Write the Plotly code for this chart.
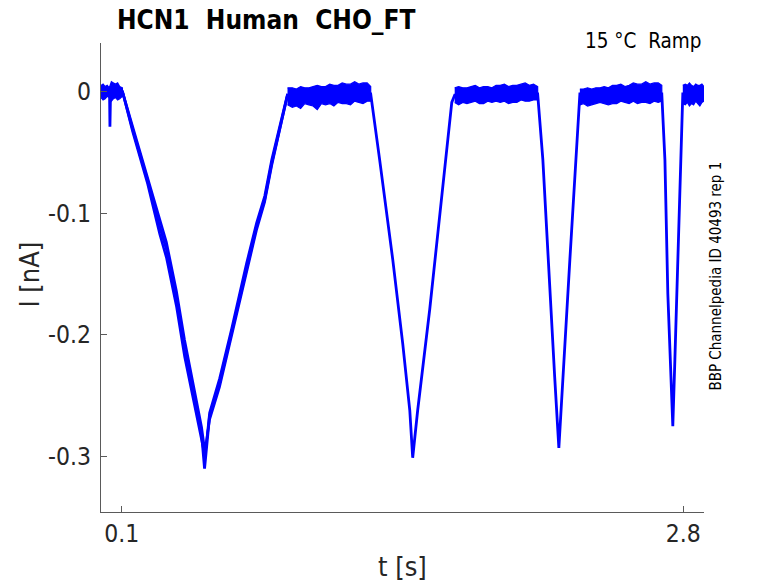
import plotly.graph_objects as go

BLUE = '#0000FF'
AXIS_GREY = '#5a5a5a'
TEXT_DARK = '#262626'
FONT = 'DejaVu Sans Condensed, DejaVu Sans, sans-serif'

# main sweep keypoints: time [s], current [nA]
t_sweep = [0.0, 0.041, 0.043, 0.046, 0.103,
           0.152, 0.224, 0.282, 0.315, 0.363, 0.402, 0.450, 0.484, 0.498,
           0.522, 0.570, 0.628, 0.700, 0.748, 0.787, 0.821, 0.897,
           1.297, 1.340, 1.403, 1.451, 1.485, 1.499, 1.523, 1.581, 1.639, 1.687, 1.701,
           2.100, 2.125, 2.158, 2.182, 2.202, 2.221, 2.255, 2.289, 2.303,
           2.697, 2.712, 2.726, 2.750, 2.760, 2.779, 2.798, 2.900]
i_sweep = [0.000, 0.000, -0.029, 0.000, 0.000,
           -0.031, -0.073, -0.111, -0.130, -0.171, -0.212, -0.253, -0.282, -0.310,
           -0.267, -0.240, -0.198, -0.144, -0.111, -0.089, -0.059, -0.003,
           -0.002, -0.056, -0.138, -0.207, -0.262, -0.301, -0.262, -0.179, -0.083, -0.009, -0.003,
           -0.002, -0.056, -0.166, -0.235, -0.293, -0.235, -0.138, -0.042, -0.002,
           -0.002, -0.056, -0.166, -0.275, -0.220, -0.111, -0.002, -0.002]

# the other sweeps only separate on the first (slow) ramp
t_ramp1 = [0.103, 0.152, 0.224, 0.282, 0.315, 0.363, 0.402, 0.450, 0.484, 0.500,
           0.522, 0.570, 0.628, 0.700, 0.748, 0.787, 0.821, 0.897]
i_ramp1_b = [0.000, -0.029, -0.070, -0.106, -0.124, -0.164, -0.204, -0.246, -0.276, -0.296,
             -0.270, -0.243, -0.201, -0.147, -0.114, -0.091, -0.061, -0.003]
i_ramp1_c = [0.000, -0.033, -0.076, -0.117, -0.137, -0.177, -0.218, -0.258, -0.286, -0.300,
             -0.264, -0.236, -0.195, -0.141, -0.108, -0.086, -0.056, -0.002]

# noise band on the holding segments: upper / lower edge [nA]
t_flat1 = [0.0, 0.01, 0.02, 0.03, 0.04, 0.05, 0.06, 0.07, 0.08, 0.09, 0.103]
up_flat1 = [0.005, 0.006, 0.004, 0.005, 0.003, 0.008, 0.007, 0.006, 0.007, 0.004, 0.003]
lo_flat1 = [-0.005, -0.007, -0.006, -0.004, -0.005, -0.008, -0.006, -0.005, -0.007, -0.006, -0.004]

t_flat2 = [0.897, 0.92, 0.94, 0.96, 0.98, 1.00, 1.02, 1.04, 1.06, 1.08, 1.10,
           1.12, 1.14, 1.16, 1.18, 1.20, 1.22, 1.24, 1.26, 1.28, 1.297]
up_flat2 = [0.003, 0.003, 0.002, 0.004, 0.003, 0.003, 0.004, 0.005, 0.004, 0.004, 0.006,
            0.005, 0.005, 0.007, 0.006, 0.006, 0.008, 0.006, 0.007, 0.007, 0.004]
lo_flat2 = [-0.011, -0.013, -0.012, -0.014, -0.010, -0.011, -0.012, -0.015, -0.010, -0.011, -0.010,
            -0.012, -0.009, -0.010, -0.010, -0.011, -0.008, -0.009, -0.010, -0.008, -0.008]

t_flat3 = [1.701, 1.72, 1.74, 1.76, 1.78, 1.80, 1.82, 1.84, 1.86, 1.88, 1.90,
           1.92, 1.94, 1.96, 1.98, 2.00, 2.02, 2.04, 2.06, 2.08, 2.100]
up_flat3 = [0.003, 0.004, 0.003, 0.003, 0.004, 0.005, 0.003, 0.004, 0.004, 0.003, 0.005,
            0.005, 0.006, 0.004, 0.005, 0.005, 0.006, 0.007, 0.005, 0.006, 0.004]
lo_flat3 = [-0.009, -0.011, -0.009, -0.010, -0.009, -0.008, -0.010, -0.010, -0.008, -0.009, -0.008,
            -0.009, -0.008, -0.010, -0.009, -0.009, -0.007, -0.008, -0.008, -0.007, -0.007]

t_flat4 = [2.303, 2.32, 2.34, 2.36, 2.38, 2.40, 2.42, 2.44, 2.46, 2.48, 2.50,
           2.52, 2.54, 2.56, 2.58, 2.60, 2.62, 2.64, 2.66, 2.68, 2.697]
up_flat4 = [0.002, 0.002, 0.003, 0.002, 0.003, 0.003, 0.004, 0.003, 0.005, 0.005, 0.006,
            0.004, 0.005, 0.007, 0.006, 0.006, 0.008, 0.006, 0.007, 0.007, 0.005]
lo_flat4 = [-0.011, -0.010, -0.012, -0.011, -0.010, -0.009, -0.010, -0.011, -0.010, -0.010, -0.008,
            -0.009, -0.010, -0.008, -0.010, -0.009, -0.009, -0.010, -0.008, -0.009, -0.008]

t_flat5 = [2.798, 2.81, 2.82, 2.83, 2.84, 2.85, 2.86, 2.87, 2.88, 2.89, 2.900]
up_flat5 = [0.005, 0.006, 0.005, 0.007, 0.005, 0.004, 0.006, 0.005, 0.005, 0.006, 0.004]
lo_flat5 = [-0.010, -0.011, -0.009, -0.012, -0.010, -0.011, -0.008, -0.010, -0.012, -0.009, -0.008]

flats = [(t_flat1, up_flat1, lo_flat1), (t_flat2, up_flat2, lo_flat2),
         (t_flat3, up_flat3, lo_flat3), (t_flat4, up_flat4, lo_flat4),
         (t_flat5, up_flat5, lo_flat5)]

x_ticks = [0.1, 2.8]
x_tick_labels = ['0.1', '2.8']
y_ticks = [0, -0.1, -0.2, -0.3]
y_tick_labels = ['0', '-0.1', '-0.2', '-0.3']

fig = go.Figure()

# noise bands
for tf, up, lo in flats:
    fig.add_trace(go.Scatter(x=tf + tf[::-1], y=up + lo[::-1], fill='toself',
                             fillcolor=BLUE, mode='lines',
                             line=dict(color=BLUE, width=1.2),
                             hoverinfo='skip', showlegend=False))

# extra sweeps on the slow ramp
for ys in (i_ramp1_b, i_ramp1_c):
    fig.add_trace(go.Scatter(x=t_ramp1, y=ys, mode='lines',
                             line=dict(color=BLUE, width=2.5),
                             showlegend=False))

fig.add_trace(go.Scatter(x=t_sweep, y=i_sweep, mode='lines',
                         line=dict(color=BLUE, width=2.8),
                         showlegend=False))

axis_common = dict(showgrid=False, zeroline=False, showline=True,
                   linecolor=AXIS_GREY, linewidth=1, ticks='inside',
                   tickcolor=AXIS_GREY, ticklen=6, tickwidth=1, automargin=False,
                   tickfont=dict(family=FONT, size=24.5, color=TEXT_DARK))

fig.update_xaxes(range=[0.0, 2.9], tickvals=x_ticks, ticktext=x_tick_labels,
                 ticklabelstandoff=0, **axis_common)
fig.update_yaxes(range=[-0.3456, 0.0398], tickvals=y_ticks, ticktext=y_tick_labels,
                 ticklabelstandoff=4, **axis_common)

fig.add_annotation(text='<b>HCN1\u00a0\u00a0Human\u00a0\u00a0CHO_FT</b>',
                   xref='paper', yref='paper', x=0.0227, y=1.050,
                   xanchor='left', yanchor='middle', showarrow=False,
                   font=dict(family=FONT, size=26, color='#000000'))
fig.add_annotation(text='15 °C\u00a0\u00a0Ramp',
                   xref='paper', yref='paper', x=0.998, y=1.005,
                   xanchor='right', yanchor='middle', showarrow=False,
                   font=dict(family=FONT, size=20.5, color='#000000'))
fig.add_annotation(text='BBP Channelpedia ID 40493 rep 1',
                   xref='paper', yref='paper', x=1.020, y=0.502,
                   xanchor='center', yanchor='middle', textangle=-90,
                   showarrow=False,
                   font=dict(family=FONT, size=15, color='#000000'))
fig.add_annotation(text='I [nA]', xref='paper', yref='paper', x=-0.118, y=0.506,
                   xanchor='center', yanchor='middle', textangle=-90,
                   showarrow=False,
                   font=dict(family=FONT, size=27, color=TEXT_DARK))
fig.add_annotation(text='t [s]', xref='paper', yref='paper', x=0.5, y=-0.117,
                   xanchor='center', yanchor='middle', showarrow=False,
                   font=dict(family=FONT, size=27, color=TEXT_DARK))

# the page puts the figure 8 px in from the top-left corner
fig.update_layout(width=770, height=575,
                  margin=dict(l=93, r=74, t=35, b=71),
                  plot_bgcolor='#FFFFFF', paper_bgcolor='#FFFFFF',
                  showlegend=False)

fig.write_html('out.html')
